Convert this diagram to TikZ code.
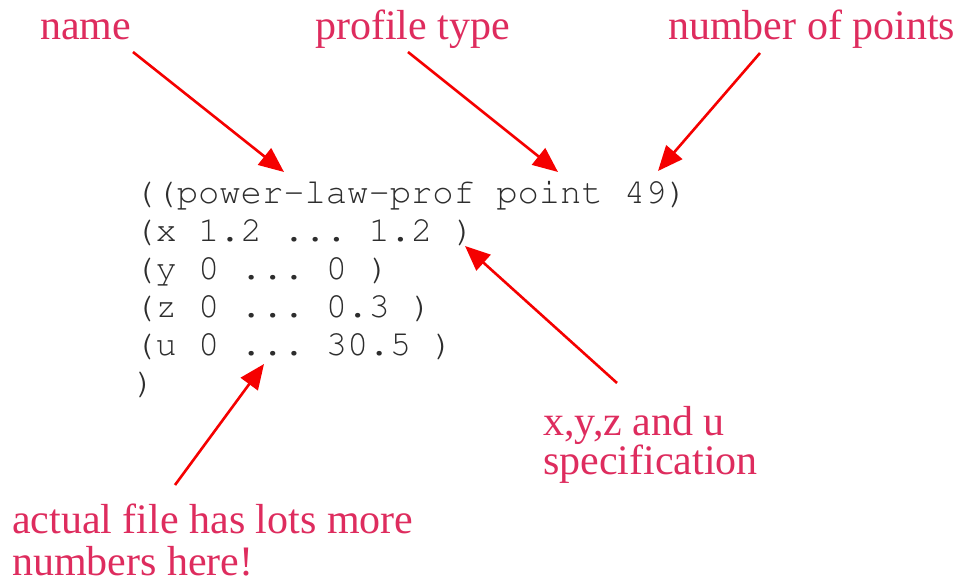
\documentclass[tikz,border=0pt]{standalone}
\usepackage[T1]{fontenc}
\usepackage{fontspec}
\setmainfont{Liberation Serif}
\usetikzlibrary{arrows.meta}

% Courier (URW Nimbus Mono) for the file listing, with even spaces after dots
\newcommand{\listingfont}{\fontencoding{T1}\fontfamily{pcr}\fontseries{m}\fontshape{n}%
  \fontsize{35.5}{38}\selectfont\frenchspacing}

\definecolor{labelpink}{RGB}{222,44,94}
\definecolor{arrowred}{RGB}{245,0,0}
\definecolor{codegray}{RGB}{45,45,45}

\tikzset{
  x=1pt, y=-1pt,
  % multi-line nodes are placed by the baseline of their last line
  note/.style={inner sep=0pt, anchor=base west, text=labelpink,
               font=\fontsize{42}{42}\selectfont},
  code/.style={inner sep=0pt, anchor=base west, text=codegray, align=left,
               font=\listingfont},
  pointer/.style={draw=arrowred, line width=2.6pt,
                  -{Triangle[length=25pt,width=21pt,fill=arrowred]}}
}

\begin{document}
\begin{tikzpicture}
  \useasboundingbox[fill=white] (0,0) rectangle (963,586);

  % labels at the top
  \node[note] (lname)  at (40,40)  {name};
  \node[note] (ltype)  at (315,40) {profile type};
  \node[note] (lcount) at (668,40) {number of points};

  % the profile file itself
  \node[code] (file) at (134,393)
    {((power-law-prof point 49)\\
     (x 1.2 ... 1.2 )\\
     (y 0 ... 0 )\\
     (z 0 ... 0.3 )\\
     (u 0 ... 30.5 )\\
     )};

  % labels at the bottom
  \node[note, align=left, font=\fontsize{42}{39}\selectfont] (lspec) at (543,474)
    {x,y,z and u\\specification};
  \node[note, align=left] (lmore) at (12,575)
    {actual file has lots more\\numbers here!};

  % arrow ends
  \coordinate (sname)  at (133,52);
  \coordinate (tname)  at (284,172);
  \coordinate (stype)  at (408,52);
  \coordinate (ttype)  at (558,172);
  \coordinate (scount) at (760,53);
  \coordinate (tcount) at (658,171);
  \coordinate (sspec)  at (617,383);
  \coordinate (tspec)  at (465,246);
  \coordinate (smore)  at (175,485);
  \coordinate (tmore)  at (264,364);

  \draw[pointer] (sname)  -- (tname);
  \draw[pointer] (stype)  -- (ttype);
  \draw[pointer] (scount) -- (tcount);
  \draw[pointer] (sspec)  -- (tspec);
  \draw[pointer] (smore)  -- (tmore);
\end{tikzpicture}
\end{document}
